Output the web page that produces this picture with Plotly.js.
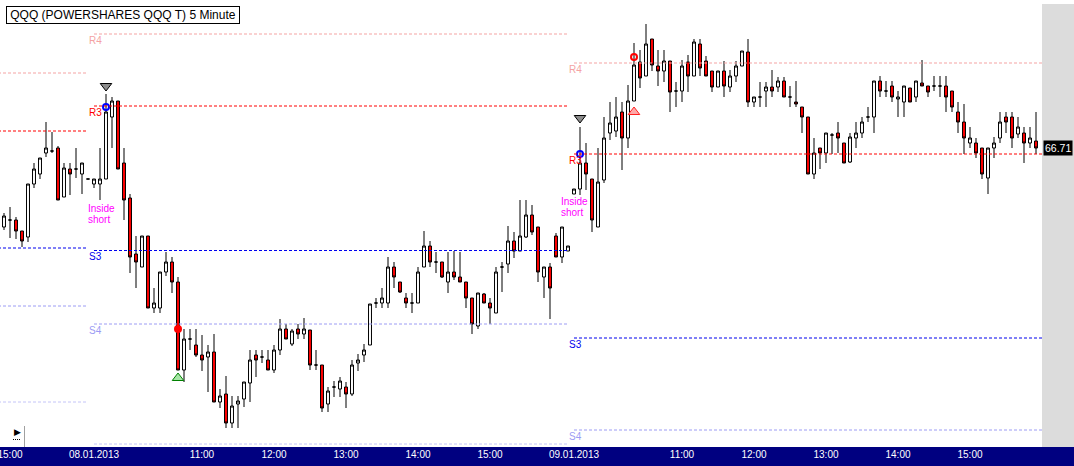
<!DOCTYPE html>
<html>
<head>
<meta charset="utf-8">
<script src="https://cdn.plot.ly/plotly-3.0.1.min.js"></script>
<style>html,body{margin:0;padding:0;background:#fff;}#chart{width:1074px;height:466px;}</style>
</head>
<body>
<div id="chart"></div>
<script>
// ---- Data (QQQ 5-minute bars) ----
const sessionDates = ['07.01', '08.01', '09.01'];
const sessionStarts = ['14:55', '09:30', '09:30'];

const open0701  = [66.552,66.566,66.566,66.544,66.532,66.638,66.658,66.700,66.704,66.710,66.612,66.668,66.668,66.658,66.648];
const high0701  = [66.580,66.592,66.572,66.544,66.638,66.680,66.690,66.762,66.742,66.714,66.680,66.680,66.710,66.680,66.648];
const low0701   = [66.546,66.530,66.528,66.512,66.522,66.630,66.648,66.692,66.700,66.606,66.612,66.616,66.650,66.618,66.648];
const close0701 = [66.574,66.566,66.544,66.524,66.638,66.668,66.690,66.710,66.704,66.606,66.670,66.658,66.668,66.680,66.648];

const open0801 = [66.638,66.638,66.648,66.772,66.804,66.680,66.610,66.498,66.472,66.534,
  66.390,66.390,66.462,66.482,66.442,66.266,66.328,66.316,66.296,66.292,
  66.302,66.202,66.218,66.160,66.198,66.208,66.240,66.296,66.292,66.286,
  66.266,66.306,66.348,66.318,66.348,66.338,66.346,66.276,66.276,66.198,
  66.232,66.228,66.232,66.218,66.280,66.296,66.316,66.400,66.400,66.400,
  66.472,66.442,66.410,66.400,66.400,66.472,66.514,66.482,66.482,66.442,
  66.462,66.452,66.442,66.410,66.354,66.418,66.400,66.380,66.472,66.478,
  66.524,66.504,66.532,66.576,66.552,66.452,66.472,66.534,66.492,66.504];
const high0801 = [66.648,66.710,66.818,66.812,66.804,66.710,66.618,66.534,66.534,66.534,
  66.430,66.462,66.502,66.492,66.452,66.348,66.348,66.348,66.336,66.316,
  66.338,66.228,66.254,66.214,66.214,66.242,66.306,66.306,66.306,66.306,
  66.316,66.368,66.358,66.348,66.358,66.370,66.346,66.306,66.276,66.232,
  66.244,66.252,66.242,66.286,66.298,66.318,66.398,66.410,66.430,66.492,
  66.482,66.442,66.420,66.420,66.472,66.544,66.524,66.502,66.482,66.502,
  66.504,66.502,66.442,66.410,66.420,66.420,66.410,66.472,66.482,66.554,
  66.542,66.606,66.606,66.596,66.552,66.472,66.480,66.540,66.552,66.514];
const low0801 = [66.630,66.606,66.648,66.710,66.668,66.566,66.460,66.430,66.472,66.390,
  66.380,66.380,66.454,66.420,66.266,66.242,66.306,66.292,66.264,66.222,
  66.202,66.190,66.150,66.150,66.150,66.192,66.202,66.252,66.280,66.266,
  66.260,66.296,66.328,66.314,66.328,66.328,66.266,66.266,66.182,66.182,
  66.212,66.212,66.190,66.214,66.264,66.282,66.316,66.390,66.390,66.390,
  66.430,66.420,66.390,66.380,66.400,66.472,66.472,66.460,66.450,66.420,
  66.446,66.442,66.390,66.338,66.348,66.400,66.358,66.380,66.422,66.460,
  66.490,66.504,66.530,66.536,66.442,66.410,66.368,66.492,66.480,66.504];
const close0801 = [66.648,66.648,66.782,66.804,66.668,66.606,66.492,66.482,66.534,66.390,
  66.400,66.462,66.482,66.442,66.266,66.328,66.328,66.296,66.286,66.302,
  66.202,66.214,66.160,66.194,66.204,66.242,66.286,66.286,66.292,66.266,
  66.306,66.348,66.328,66.344,66.338,66.348,66.276,66.276,66.190,66.224,
  66.232,66.244,66.218,66.276,66.286,66.306,66.398,66.400,66.410,66.472,
  66.452,66.422,66.400,66.400,66.462,66.514,66.482,66.482,66.452,66.462,
  66.452,66.442,66.410,66.358,66.420,66.400,66.390,66.462,66.472,66.524,
  66.504,66.534,66.576,66.542,66.462,66.472,66.430,66.492,66.552,66.514];

const open0901 = [66.618,66.628,66.680,66.648,66.552,66.646,66.740,66.744,66.782,66.730,
  66.804,66.882,66.854,66.928,66.874,66.864,66.884,66.824,66.824,66.882,
  66.854,66.918,66.884,66.864,66.832,66.864,66.832,66.854,66.874,66.902,
  66.802,66.812,66.824,66.832,66.832,66.844,66.812,66.802,66.792,66.772,
  66.658,66.710,66.700,66.736,66.740,66.720,66.682,66.730,66.740,66.772,
  66.772,66.844,66.824,66.834,66.808,66.802,66.830,66.812,66.840,66.834,
  66.834,66.834,66.834,66.824,66.782,66.762,66.720,66.720,66.710,66.650,
  66.710,66.730,66.772,66.772,66.738,66.740,66.720,66.724];
const high0901 = [66.628,66.752,66.720,66.648,66.710,66.772,66.802,66.812,66.802,66.836,
  66.920,66.906,66.958,66.928,66.906,66.906,66.884,66.842,66.886,66.896,
  66.928,66.928,66.894,66.864,66.864,66.884,66.866,66.884,66.904,66.928,
  66.812,66.842,66.842,66.866,66.852,66.852,66.834,66.844,66.792,66.772,
  66.730,66.710,66.740,66.740,66.762,66.720,66.740,66.762,66.772,66.792,
  66.844,66.854,66.844,66.844,66.824,66.834,66.830,66.844,66.886,66.834,
  66.854,66.854,66.854,66.824,66.802,66.798,66.752,66.730,66.710,66.710,
  66.732,66.782,66.782,66.782,66.772,66.752,66.752,66.782];
const low0901 = [66.618,66.616,66.626,66.542,66.552,66.640,66.726,66.732,66.666,66.710,
  66.804,66.830,66.854,66.864,66.834,66.842,66.782,66.792,66.802,66.822,
  66.854,66.854,66.854,66.822,66.832,66.812,66.822,66.842,66.874,66.792,
  66.792,66.792,66.792,66.812,66.822,66.812,66.792,66.792,66.740,66.658,
  66.648,66.668,66.680,66.698,66.700,66.680,66.680,66.710,66.730,66.762,
  66.740,66.812,66.812,66.802,66.772,66.772,66.802,66.802,66.834,66.812,
  66.824,66.812,66.782,66.782,66.740,66.698,66.710,66.690,66.648,66.618,
  66.690,66.720,66.740,66.710,66.730,66.680,66.710,66.698];
const close0901 = [66.628,66.680,66.658,66.566,66.642,66.730,66.760,66.772,66.730,66.804,
  66.876,66.850,66.918,66.876,66.864,66.884,66.822,66.824,66.874,66.854,
  66.922,66.870,66.854,66.832,66.864,66.834,66.854,66.874,66.904,66.802,
  66.812,66.812,66.832,66.824,66.844,66.812,66.812,66.798,66.772,66.658,
  66.700,66.700,66.740,66.736,66.730,66.680,66.732,66.740,66.762,66.772,
  66.844,66.824,66.824,66.812,66.812,66.834,66.802,66.844,66.834,66.822,
  66.834,66.834,66.812,66.792,66.762,66.730,66.730,66.700,66.658,66.710,
  66.720,66.762,66.762,66.730,66.752,66.720,66.730,66.710];

// Pivot levels per session (R4, R3, S3, S4, lower extra level)
const pivotNames = ['R4', 'R3', 'S3', 'S4', ''];
const pivots0701 = [66.860, 66.744, 66.510, 66.394, 66.202];
const pivots0801 = [66.938, 66.794, 66.505, 66.358, 66.118];
const pivots0901 = [66.880, 66.698, 66.330, 66.146, null];

// Signals
const shortSetupTimes = ['08.01 09:40', '09.01 09:35'];
const shortSetupMarks = [66.834, 66.770];
const entryTimes = ['08.01 09:40', '09.01 09:35'];
const entryPrices = [66.792, 66.698];
const exitDotTimes = ['08.01 10:40'];
const exitDotPrices = [66.348];
const longMarkTimes = ['08.01 10:40'];
const longMarkPrices = [66.250];
const stopTimes = ['09.01 10:20'];
const stopPrices = [66.892];
const upMarkTimes = ['09.01 10:20'];
const upMarkPrices = [66.782];
const insideShortSlots = [13.83, 92.67];
const insideShortPrices = [66.590, 66.603];
const lastPrice = 66.71;

const tickTimes = ['07.01 15:00','08.01 09:30','08.01 11:00','08.01 12:00','08.01 13:00','08.01 14:00','08.01 15:00',
                   '09.01 09:30','09.01 11:00','09.01 12:00','09.01 13:00','09.01 14:00','09.01 15:00'];
const tickLabels = ['15:00','08.01.2013','11:00','12:00','13:00','14:00','15:00',
                    '09.01.2013','11:00','12:00','13:00','14:00','15:00'];

// ---- Build ----
const sessionCounts = [open0701.length, open0801.length, open0901.length];
const times = [];
const sessionStartIdx = [];
sessionDates.forEach((d, s) => {
  sessionStartIdx.push(times.length);
  let [h, m] = sessionStarts[s].split(':').map(Number);
  for (let j = 0; j < sessionCounts[s]; j++) {
    times.push(d + ' ' + String(h).padStart(2, '0') + ':' + String(m).padStart(2, '0'));
    m += 5; if (m >= 60) { m -= 60; h += 1; }
  }
});
const open = open0701.concat(open0801, open0901);
const high = high0701.concat(high0801, high0901);
const low = low0701.concat(low0801, low0901);
const close = close0701.concat(close0801, close0901);

const W = 1074, H = 466, ML = 0, MR = 32, MT = 4, MB = 19;
const PW = W - ML - MR, PH = H - MT - MB;
const px = x => (x - ML) / PW;
const py = y => (H - MB - y) / PH;
const XMAX = 173;

const pivotColors = ['#f4a3a3', '#ff0000', '#0000ee', '#9c9cf4', '#c4c4f8'];
const labelFont = {family: 'Liberation Sans, Arial, sans-serif', size: 10};

const shapes = [];
const annotations = [];

// background strips
shapes.push({type: 'rect', xref: 'paper', yref: 'paper', x0: 1, x1: W / PW, y0: 0, y1: 1,
  fillcolor: '#dcdcdc', line: {width: 0}, layer: 'below'});
shapes.push({type: 'rect', xref: 'paper', yref: 'paper', x0: 0, x1: W / PW, y0: -MB / PH, y1: 0,
  fillcolor: '#000080', line: {width: 0}, layer: 'below'});

const pivotSets = [pivots0701, pivots0801, pivots0901];
pivotSets.forEach((set, s) => {
  const x0 = s === 0 ? -1 : sessionStartIdx[s];
  const x1 = s === 2 ? XMAX : sessionStartIdx[s] + sessionCounts[s] - 1;
  set.forEach((v, j) => {
    if (v === null) return;
    shapes.push({type: 'line', xref: 'x', yref: 'y', x0: x0, x1: x1, y0: v, y1: v,
      line: {color: pivotColors[j], width: 1, dash: '3px,2px'}});
    if (s > 0 && pivotNames[j]) {
      annotations.push({xref: 'x', yref: 'y', x: sessionStartIdx[s] - 1.05, y: v, yshift: -6,
        xanchor: 'left', yanchor: 'middle', showarrow: false, text: pivotNames[j],
        font: Object.assign({color: pivotColors[j]}, labelFont), borderpad: 0});
    }
  });
});

// Inside short texts
insideShortSlots.forEach((xs, j) => {
  annotations.push({xref: 'x', yref: 'y', x: xs, y: insideShortPrices[j], xanchor: 'left', yanchor: 'middle',
    showarrow: false, text: 'Inside', font: Object.assign({color: '#ff00ff'}, labelFont), borderpad: 0});
  annotations.push({xref: 'x', yref: 'y', x: xs, y: insideShortPrices[j], yshift: -11, xanchor: 'left', yanchor: 'middle',
    showarrow: false, text: 'short', font: Object.assign({color: '#ff00ff'}, labelFont), borderpad: 0});
});

// title box
annotations.push({xref: 'paper', yref: 'paper', x: px(6), y: py(6), xanchor: 'left', yanchor: 'top',
  showarrow: false, text: 'QQQ (POWERSHARES QQQ T) 5 Minute',
  font: {family: 'Liberation Sans, Arial, sans-serif', size: 12, color: '#000'},
  bgcolor: '#ffffff', bordercolor: '#000000', borderwidth: 1, borderpad: 1, width: 230, height: 14});

// last price label
annotations.push({xref: 'paper', yref: 'y', x: px(1043), y: lastPrice, xanchor: 'left', yanchor: 'middle',
  showarrow: false, text: lastPrice.toFixed(2),
  font: {family: 'Liberation Sans, Arial, sans-serif', size: 10.5, color: '#ffffff'},
  bgcolor: '#000000', borderpad: 1});

// small scroll icon
annotations.push({xref: 'paper', yref: 'paper', x: px(17), y: py(432), xanchor: 'center', yanchor: 'middle',
  showarrow: false, text: '\u25B6', font: {family: 'DejaVu Sans', size: 9, color: '#000'}});
shapes.push({type: 'line', xref: 'paper', yref: 'paper', x0: px(24.5), x1: px(24.5), y0: py(447), y1: py(426),
  line: {color: '#a0a0a0', width: 1}});
shapes.push({type: 'line', xref: 'paper', yref: 'paper', x0: px(13), x1: px(21), y0: py(439.5), y1: py(439.5),
  line: {color: '#000', width: 1, dash: '1px,1px'}});

const traces = [
  {type: 'candlestick', x: times, open: open, high: high, low: low, close: close,
   increasing: {line: {color: '#000000', width: 1}, fillcolor: '#ffffff'},
   decreasing: {line: {color: '#000000', width: 1}, fillcolor: '#ff0000'},
   whiskerwidth: 0, hoverinfo: 'skip', showlegend: false},
  {type: 'scatter', mode: 'markers', x: shortSetupTimes, y: shortSetupMarks, cliponaxis: false,
   marker: {symbol: 'triangle-down', size: 10, color: '#8c8c8c', line: {color: '#000', width: 1}}, hoverinfo: 'skip'},
  {type: 'scatter', mode: 'markers', x: entryTimes, y: entryPrices,
   marker: {symbol: 'circle-open', size: 6, color: '#0000ff', line: {color: '#0000ff', width: 2}}, hoverinfo: 'skip'},
  {type: 'scatter', mode: 'markers', x: exitDotTimes, y: exitDotPrices,
   marker: {symbol: 'circle', size: 8, color: '#ff0000', line: {width: 0}}, hoverinfo: 'skip'},
  {type: 'scatter', mode: 'markers', x: longMarkTimes, y: longMarkPrices,
   marker: {symbol: 'triangle-up', size: 10, color: '#a6e6a6', line: {color: '#008000', width: 1}}, hoverinfo: 'skip'},
  {type: 'scatter', mode: 'markers', x: stopTimes, y: stopPrices,
   marker: {symbol: 'circle-open', size: 6, color: '#ff0000', line: {color: '#ff0000', width: 2}}, hoverinfo: 'skip'},
  {type: 'scatter', mode: 'markers', x: upMarkTimes, y: upMarkPrices,
   marker: {symbol: 'triangle-up', size: 10, color: '#ffa8a8', line: {color: '#ff2020', width: 1}}, hoverinfo: 'skip'}
];

const layout = {
  width: W, height: H,
  margin: {l: ML, r: MR, t: MT, b: MB, pad: 0},
  paper_bgcolor: '#ffffff', plot_bgcolor: '#ffffff',
  showlegend: false,
  boxgap: 0.3,
  xaxis: {type: 'category', categoryorder: 'array', categoryarray: times, range: [-0.667, XMAX],
    showgrid: false, zeroline: false, showline: false, ticks: '', tickvals: tickTimes, ticktext: tickLabels,
    tickangle: 0, tickfont: {family: 'Liberation Sans, Arial, sans-serif', size: 10, color: '#ffffff'},
    rangeslider: {visible: false}, fixedrange: true, automargin: false},
  yaxis: {range: [66.112, 66.998], showgrid: false, zeroline: false, showticklabels: false, ticks: '',
    showline: false, fixedrange: true, automargin: false},
  shapes: shapes,
  annotations: annotations
};

Plotly.newPlot('chart', traces, layout, {staticPlot: true, displayModeBar: false});
</script>
</body>
</html>
